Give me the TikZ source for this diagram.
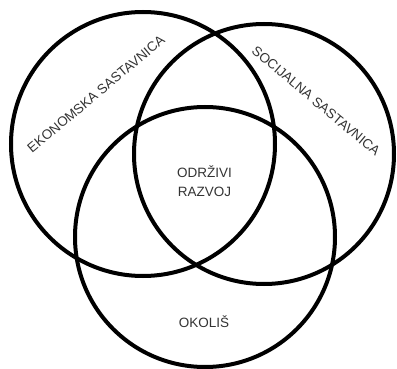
\documentclass[tikz,border=0pt]{standalone}
\usepackage{fontspec}
\setmainfont{Liberation Sans}
\begin{document}
\begin{tikzpicture}[x=1pt,y=-1pt,
  ring/.style={draw=black,line width=4pt},
  lbl/.style={text=black!80,font=\fontsize{13.5}{18}\selectfont,inner sep=0pt,align=center}]
\useasboundingbox (0,0) rectangle (397,369);
\draw[ring] (143,144) circle[radius=132];
\draw[ring] (264,154) circle[radius=130];
\draw[ring] (205,237) circle[radius=130];
\node[lbl,rotate=40] (eko) at (96,94) {EKONOMSKA SASTAVNICA};
\node[lbl,rotate=-40] (soc) at (316,101) {SOCIJALNA SASTAVNICA};
\node[lbl] (odr) at (204.5,181) {ODRŽIVI\\[1pt]RAZVOJ};
\node[lbl] (oko) at (204,322) {OKOLIŠ};
\end{tikzpicture}
\end{document}
